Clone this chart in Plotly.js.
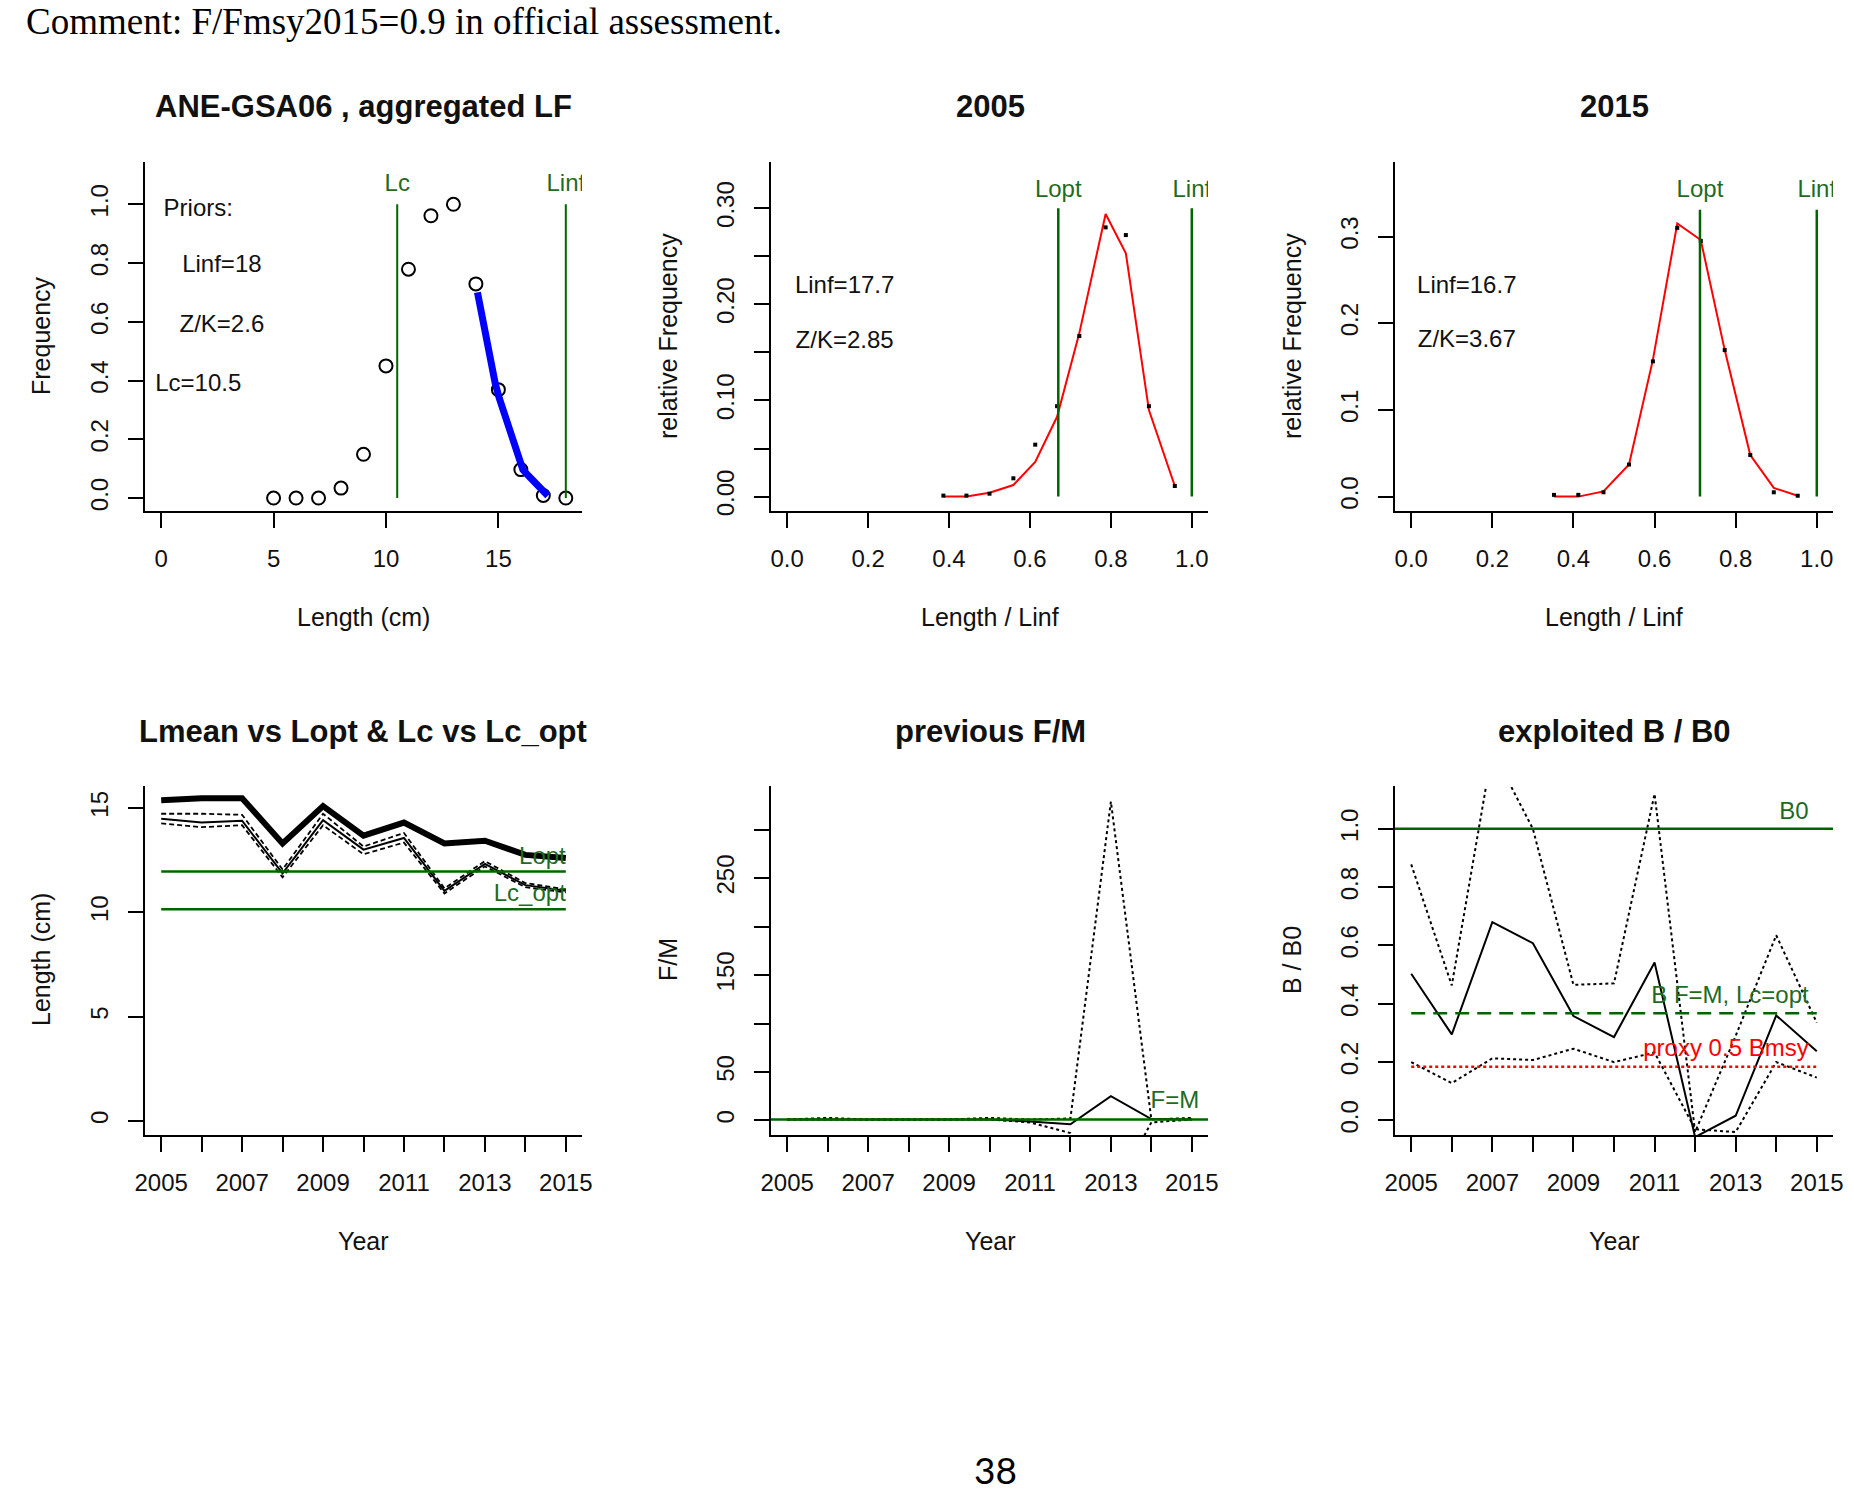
<!DOCTYPE html>
<html><head><meta charset="utf-8">
<script src="https://cdn.plot.ly/plotly-3.0.1.min.js"></script>
<style>html,body{margin:0;padding:0;background:#fff}#chart{width:1854px;height:1493px}</style>
</head><body><div id="chart"></div>
<script>
// ---------- DATA ----------
// Panel 1: aggregated length frequency
var lenBins  = [5, 6, 7, 8, 9, 10, 11, 12, 13, 14, 15, 16, 17, 18];
var freqAgg  = [0, 0, 0, 0.034, 0.149, 0.45, 0.779, 0.961, 1.0, 0.729, 0.369, 0.097, 0.009, 0];
var fitLen   = [14.07, 14.25, 14.45, 14.65, 14.86, 15.04, 15.3, 15.56, 15.82, 16.09, 16.35, 16.7, 17.05, 17.2];
var fitFreq  = [0.70, 0.63, 0.55, 0.46, 0.39, 0.34, 0.275, 0.21, 0.15, 0.097, 0.075, 0.048, 0.017, 0.008];
var priorLc = 10.5, priorLinf = 18;
var priorText = ['Priors:', 'Linf=18', 'Z/K=2.6', 'Lc=10.5'];

// Panel 2: 2005
var x2005   = [0.386, 0.443, 0.500, 0.559, 0.613, 0.667, 0.722, 0.787, 0.837, 0.894, 0.958];
var obs2005 = [0.001, 0.001, 0.003, 0.019, 0.054, 0.094, 0.167, 0.280, 0.272, 0.094, 0.011];
var fit2005 = [0.000, 0.000, 0.004, 0.012, 0.036, 0.083, 0.170, 0.294, 0.253, 0.090, 0.011];
var lopt2005 = 0.67;
var text2005 = ['Linf=17.7', 'Z/K=2.85'];

// Panel 3: 2015
var x2015   = [0.352, 0.412, 0.474, 0.537, 0.596, 0.656, 0.714, 0.773, 0.836, 0.894, 0.953];
var obs2015 = [0.002, 0.002, 0.005, 0.037, 0.156, 0.310, 0.295, 0.169, 0.048, 0.005, 0.001];
var fit2015 = [0.000, 0.000, 0.006, 0.037, 0.158, 0.315, 0.296, 0.169, 0.048, 0.010, 0.001];
var lopt2015 = 0.712;
var text2015 = ['Linf=16.7', 'Z/K=3.67'];

// Bottom panels: years
var years = [2005, 2006, 2007, 2008, 2009, 2010, 2011, 2012, 2013, 2014, 2015];
var yearTicks = ['2005', '', '2007', '', '2009', '', '2011', '', '2013', '', '2015'];

// Panel 4: Lmean vs Lopt & Lc vs Lc_opt
var lmean   = [15.37, 15.46, 15.46, 13.30, 15.09, 13.67, 14.30, 13.30, 13.43, 12.75, 12.60];
var lcYear  = [14.48, 14.30, 14.39, 11.86, 14.41, 13.00, 13.56, 11.03, 12.32, 11.30, 11.03];
var lcUpper = [14.72, 14.72, 14.67, 12.05, 14.72, 13.15, 13.80, 11.15, 12.45, 11.40, 11.10];
var lcLower = [14.26, 14.08, 14.17, 11.68, 14.17, 12.78, 13.34, 10.90, 12.20, 11.20, 10.95];
var loptCm = 11.95, lcOptCm = 10.14;

// Panel 5: previous F/M
var fmMid   = [1, 1, 1, 1, 1, 1, -1, -4, 25, 1.5, 1];
var fmUpper = [1, 2.6, 1, 1, 1, 2.6, 1, 2, 329, 1, 2.6];
var fmLower = [1, 1, 1, 1, 1, 1, -2, -13, -80, -2, 1];

// Panel 6: exploited B / B0
var bbMid   = [0.503, 0.295, 0.680, 0.608, 0.358, 0.286, 0.542, -0.057, 0.016, 0.360, 0.237];
var bbUpper = [0.878, 0.463, 1.270, 1.000, 0.465, 0.470, 1.120, -0.040, 0.290, 0.635, 0.335];
var bbLower = [0.200, 0.128, 0.213, 0.207, 0.246, 0.200, 0.233, -0.030, -0.040, 0.200, 0.147];
var b0 = 1.0, bFM = 0.368, bProxy = 0.184;

// ---------- STYLE / LAYOUT ----------
var W = 1854, H = 1493;
var FONT = 'Liberation Sans, Arial, sans-serif';
var GREEN = '#006400', GTXT = '#1f6b1f';
function px(x) { return x / W; }
function py(y) { return 1 - y / H; }
var colX = [[145, 582], [771, 1208], [1395, 1833]];
var rowY = [[162, 511], [786, 1135]];

function xax(col, row, range, tv, tt, anchor) {
  return {domain: [px(colX[col][0]), px(colX[col][1])], range: range, anchor: anchor,
    tickmode: 'array', tickvals: tv, ticktext: tt,
    showline: true, linecolor: '#000', linewidth: 2, mirror: false,
    ticks: 'outside', ticklen: 15, tickwidth: 2, tickcolor: '#000',
    showgrid: false, zeroline: false, fixedrange: true, ticklabelstandoff: 10,
    tickfont: {family: FONT, size: 24, color: '#111'}};
}
function yax(col, row, range, tv, tt, anchor) {
  return {domain: [py(rowY[row][1]), py(rowY[row][0])], range: range, anchor: anchor,
    tickmode: 'array', tickvals: tv, ticktext: tt, tickangle: -90,
    showline: true, linecolor: '#000', linewidth: 2, mirror: false,
    ticks: 'outside', ticklen: 15, tickwidth: 2, tickcolor: '#000',
    showgrid: false, zeroline: false, fixedrange: true, ticklabelstandoff: 10,
    tickfont: {family: FONT, size: 24, color: '#111'}};
}
function line(xa, ya, x, y, color, width, dash) {
  return {type: 'scatter', mode: 'lines', xaxis: xa, yaxis: ya, x: x, y: y,
    line: {color: color, width: width, dash: dash || 'solid'}, hoverinfo: 'skip'};
}
function txt(xa, ya, x, y, t, color, pos) {
  return {type: 'scatter', mode: 'text', xaxis: xa, yaxis: ya, x: x, y: y, text: t,
    textposition: pos || 'middle center', cliponaxis: true,
    textfont: {family: FONT, size: 24, color: color}, hoverinfo: 'skip'};
}

var traces = [];
// Panel 1
traces.push({type: 'scatter', mode: 'markers', xaxis: 'x', yaxis: 'y', x: lenBins, y: freqAgg,
  marker: {symbol: 'circle-open', size: 13, color: '#000', line: {width: 2, color: '#000'}}, hoverinfo: 'skip'});
traces.push(line('x', 'y', fitLen, fitFreq, '#0000ff', 7));
traces.push(line('x', 'y', [priorLc, priorLc], [0, Math.max.apply(null, freqAgg)], GREEN, 2));
traces.push(line('x', 'y', [priorLinf, priorLinf], [0, Math.max.apply(null, freqAgg)], GREEN, 2));
traces.push(txt('x', 'y', [priorLc, priorLinf], [1.065, 1.065], ['Lc', 'Linf'], GTXT));
traces.push(txt('x', 'y', [1.65, 2.7, 2.7, 1.65], [0.98, 0.79, 0.585, 0.386], priorText, '#111'));

// Panel 2
traces.push(line('x2', 'y2', x2005, fit2005, '#ff0000', 2));
traces.push({type: 'scatter', mode: 'markers', xaxis: 'x2', yaxis: 'y2', x: x2005, y: obs2005,
  marker: {symbol: 'square', size: 4, color: '#000'}, hoverinfo: 'skip'});
traces.push(line('x2', 'y2', [lopt2005, lopt2005], [0, 0.30], GREEN, 2.5));
traces.push(line('x2', 'y2', [1, 1], [0, 0.30], GREEN, 2.5));
traces.push(txt('x2', 'y2', [lopt2005, 1], [0.318, 0.318], ['Lopt', 'Linf'], GTXT));
traces.push(txt('x2', 'y2', [0.142, 0.142], [0.2185, 0.161], text2005, '#111'));

// Panel 3
traces.push(line('x3', 'y3', x2015, fit2015, '#ff0000', 2));
traces.push({type: 'scatter', mode: 'markers', xaxis: 'x3', yaxis: 'y3', x: x2015, y: obs2015,
  marker: {symbol: 'square', size: 4, color: '#000'}, hoverinfo: 'skip'});
traces.push(line('x3', 'y3', [lopt2015, lopt2015], [0, 0.331], GREEN, 2.5));
traces.push(line('x3', 'y3', [1, 1], [0, 0.331], GREEN, 2.5));
traces.push(txt('x3', 'y3', [lopt2015, 1], [0.352, 0.352], ['Lopt', 'Linf'], GTXT));
traces.push(txt('x3', 'y3', [0.137, 0.137], [0.242, 0.179], text2015, '#111'));

// Panel 4
traces.push(line('x4', 'y4', years, lcUpper, '#000', 1.8, '5px,3px'));
traces.push(line('x4', 'y4', years, lcLower, '#000', 1.8, '5px,3px'));
traces.push(line('x4', 'y4', years, lcYear, '#000', 2));
traces.push(line('x4', 'y4', years, lmean, '#000', 6));
traces.push(line('x4', 'y4', [2005, 2015], [loptCm, loptCm], GREEN, 2.5));
traces.push(line('x4', 'y4', [2005, 2015], [lcOptCm, lcOptCm], GREEN, 2.5));
traces.push(txt('x4', 'y4', [2015, 2015], [12.6, 10.84], ['Lopt', 'Lc_opt'], GTXT, 'middle left'));

// Panel 5
traces.push(line('x5', 'y5', years, fmUpper, '#000', 2, 'dot'));
traces.push(line('x5', 'y5', years, fmLower, '#000', 2, 'dot'));
traces.push(line('x5', 'y5', years, fmMid, '#000', 2));
traces.push(line('x5', 'y5', [2004.6, 2015.4], [1, 1], GREEN, 2.5));
traces.push(txt('x5', 'y5', [2014.58], [18.6], ['F=M'], GTXT));

// Panel 6
traces.push(line('x6', 'y6', years, bbUpper, '#000', 2, 'dot'));
traces.push(line('x6', 'y6', years, bbLower, '#000', 2, 'dot'));
traces.push(line('x6', 'y6', years, bbMid, '#000', 2));
traces.push(line('x6', 'y6', [2004.6, 2015.4], [b0, b0], GREEN, 2.5));
traces.push(line('x6', 'y6', [2005, 2015], [bFM, bFM], GREEN, 2.5, '14px,8px'));
traces.push(line('x6', 'y6', [2005, 2015], [bProxy, bProxy], '#ff0000', 2.5, 'dot'));
traces.push(txt('x6', 'y6', [2014.8], [1.055], ['B0'], GTXT, 'middle left'));
traces.push(txt('x6', 'y6', [2014.8], [0.424], ['B F=M, Lc=opt'], GTXT, 'middle left'));
traces.push(txt('x6', 'y6', [2014.8], [0.242], ['proxy 0.5 Bmsy'], '#ff0000', 'middle left'));

var t01 = [0, 0.2, 0.4, 0.6, 0.8, 1.0], l01 = ['0.0', '0.2', '0.4', '0.6', '0.8', '1.0'];
var layout = {
  width: W, height: H, margin: {l: 0, r: 0, t: 0, b: 0},
  paper_bgcolor: '#fff', plot_bgcolor: '#fff', showlegend: false,
  xaxis:  xax(0, 0, [-0.72, 18.72], [0, 5, 10, 15], ['0', '5', '10', '15'], 'y'),
  yaxis:  yax(0, 0, [-0.044, 1.144], t01, l01, 'x'),
  xaxis2: xax(1, 0, [-0.04, 1.04], t01, l01, 'y2'),
  yaxis2: yax(1, 0, [-0.015, 0.348], [0, 0.05, 0.1, 0.15, 0.2, 0.25, 0.3], ['0.00', '', '0.10', '', '0.20', '', '0.30'], 'x2'),
  xaxis3: xax(2, 0, [-0.04, 1.04], t01, l01, 'y3'),
  yaxis3: yax(2, 0, [-0.0166, 0.386], [0, 0.1, 0.2, 0.3], ['0.0', '0.1', '0.2', '0.3'], 'x3'),
  xaxis4: xax(0, 1, [2004.6, 2015.4], years, yearTicks, 'y4'),
  yaxis4: yax(0, 1, [-0.67, 16.05], [0, 5, 10, 15], ['0', '5', '10', '15'], 'x4'),
  xaxis5: xax(1, 1, [2004.6, 2015.4], years, yearTicks, 'y5'),
  yaxis5: yax(1, 1, [-15, 345], [0, 50, 100, 150, 200, 250, 300], ['0', '50', '', '150', '', '250', ''], 'x5'),
  xaxis6: xax(2, 1, [2004.6, 2015.4], years, yearTicks, 'y6'),
  yaxis6: yax(2, 1, [-0.05, 1.147], t01, l01, 'x6'),
  annotations: []
};
function ann(text, x, y, size, opts) {
  var a = {text: text, xref: 'paper', yref: 'paper', x: px(x), y: py(y), xanchor: 'center', yanchor: 'middle',
    showarrow: false, font: {family: FONT, size: size, color: '#111'}};
  for (var k in opts) a[k] = opts[k];
  return a;
}
var A = layout.annotations;
A.push(ann('Comment: F/Fmsy2015=0.9 in official assessment.', 24, 22, 37,
  {xanchor: 'left', font: {family: 'Liberation Serif, Times New Roman, serif', size: 37, color: '#000'}}));
A.push(ann('<b>ANE-GSA06 , aggregated LF</b>', 363, 106, 31));
A.push(ann('<b>2005</b>', 990, 106, 31));
A.push(ann('<b>2015</b>', 1614, 106, 31));
A.push(ann('<b>Lmean vs Lopt &amp; Lc vs Lc_opt</b>', 363, 731, 31));
A.push(ann('<b>previous F/M</b>', 990, 731, 31));
A.push(ann('<b>exploited B / B0</b>', 1614, 731, 31));
A.push(ann('Length (cm)', 363, 617, 25));
A.push(ann('Length / Linf', 990, 617, 25));
A.push(ann('Length / Linf', 1614, 617, 25));
A.push(ann('Year', 363, 1241, 25));
A.push(ann('Year', 990, 1241, 25));
A.push(ann('Year', 1614, 1241, 25));
A.push(ann('Frequency', 41, 336, 25, {textangle: -90}));
A.push(ann('relative Frequency', 668, 336, 25, {textangle: -90}));
A.push(ann('relative Frequency', 1292, 336, 25, {textangle: -90}));
A.push(ann('Length (cm)', 41, 960, 25, {textangle: -90}));
A.push(ann('F/M', 668, 960, 25, {textangle: -90}));
A.push(ann('B / B0', 1292, 960, 25, {textangle: -90}));
A.push(ann('38', 996, 1493, 37, {yanchor: 'bottom', borderpad: 0,
  font: {family: 'Lato, Open Sans, sans-serif', size: 37, color: '#000'}}));

Plotly.newPlot('chart', traces, layout, {staticPlot: true, displayModeBar: false});
</script></body></html>
